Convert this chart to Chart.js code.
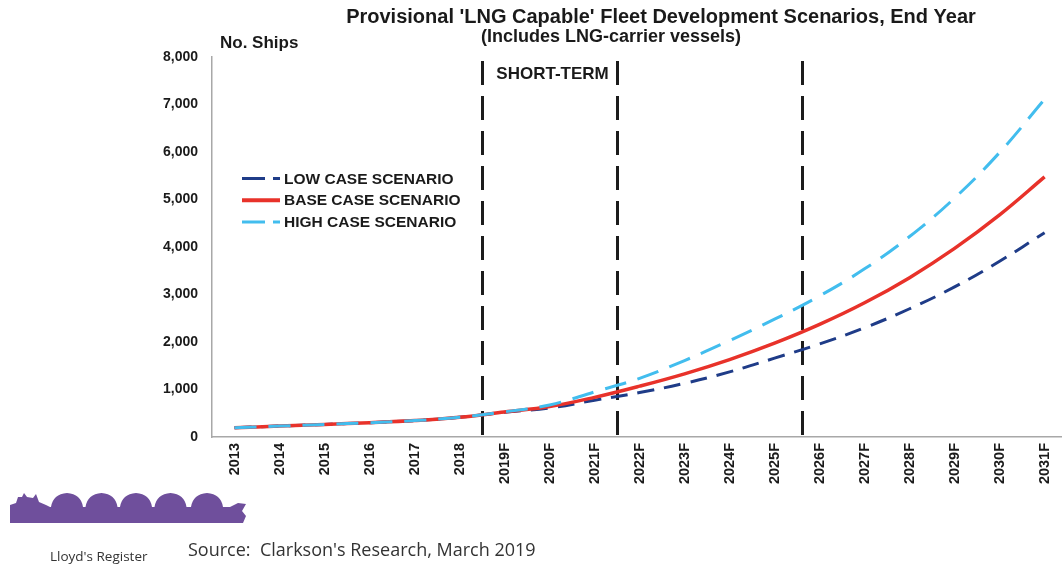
<!DOCTYPE html>
<html>
<head>
<meta charset="utf-8">
<script src="https://cdn.jsdelivr.net/npm/chart.js@4/dist/chart.umd.min.js"></script>
<style>
    html, body { margin: 0; padding: 0; background: #fff; overflow: hidden; }
    #wrap { position: relative; width: 1062px; height: 567px; overflow: hidden; }
</style>
</head>
<body>
<div id="wrap"><canvas id="fleetChart"></canvas></div>
<script>
    // Chart data
    const years = ['2013', '2014', '2015', '2016', '2017', '2018', '2019F', '2020F', '2021F', '2022F',
        '2023F', '2024F', '2025F', '2026F', '2027F', '2028F', '2029F', '2030F', '2031F'];
    const lowCase = [195, 230, 265, 300, 345, 415, 520, 610, 775, 935, 1130, 1370, 1660, 1960, 2300, 2700, 3160, 3700, 4300];
    const baseCase = [195, 230, 265, 300, 345, 415, 525, 640, 835, 1070, 1330, 1630, 1975, 2370, 2825, 3355, 3970, 4675, 5475];
    const highCase = [195, 230, 265, 300, 345, 415, 530, 675, 950, 1235, 1610, 2030, 2480, 2970, 3540, 4220, 5030, 5990, 7110];
    const seriesNames = ['LOW CASE SCENARIO', 'BASE CASE SCENARIO', 'HIGH CASE SCENARIO'];
    // vertical dashed markers, in category units
    const phaseBreaks = [5.5, 8.5, 12.6];
    const phaseLabel = 'SHORT-TERM';
    const yMax = 8000;
    const yStep = 1000;

    const canvas = document.getElementById('fleetChart');
    canvas.width = 1068;
    canvas.height = 567;

    // Draw titles, phase markers, legend, logo and source note
    const decorPlugin = {
        id: 'decor',
        beforeDatasetsDraw(chart) {
            const ctx = chart.ctx;
            const x = chart.scales.x;
            const area = chart.chartArea;
            ctx.save();
            ctx.strokeStyle = '#1c1c1c';
            ctx.lineWidth = 3;
            ctx.setLineDash([24, 11]);
            phaseBreaks.forEach(b => {
                const px = Math.round(x.getPixelForValue(b)) + 0.5;
                ctx.beginPath();
                ctx.moveTo(px, area.top + 4);
                ctx.lineTo(px, area.bottom + 1);
                ctx.stroke();
            });
            ctx.restore();
        },
        afterDraw(chart) {
            const ctx = chart.ctx;
            const x = chart.scales.x;
            ctx.save();
            ctx.fillStyle = '#1a1a1a';
            ctx.textBaseline = 'middle';

            // titles
            ctx.textAlign = 'center';
            ctx.font = 'bold 20px "Liberation Sans", Arial, sans-serif';
            ctx.fillText("Provisional 'LNG Capable' Fleet Development Scenarios, End Year", 661, 17);
            ctx.font = 'bold 18px "Liberation Sans", Arial, sans-serif';
            ctx.fillText('(Includes LNG-carrier vessels)', 611, 37);

            ctx.textAlign = 'left';
            ctx.font = 'bold 17px "Liberation Sans", Arial, sans-serif';
            ctx.fillText('No. Ships', 220, 43);

            // phase label
            ctx.textAlign = 'center';
            ctx.font = 'bold 17px "Liberation Sans", Arial, sans-serif';
            const mid = (x.getPixelForValue(phaseBreaks[0]) + x.getPixelForValue(phaseBreaks[1])) / 2;
            ctx.fillText(phaseLabel, mid + 3, 74);

            // legend
            ctx.textAlign = 'left';
            ctx.font = 'bold 15.5px "Liberation Sans", Arial, sans-serif';
            [0, 1, 2].forEach((di, row) => {
                const ds = chart.data.datasets[di];
                const ly = 178.5 + row * 21.7;
                ctx.save();
                ctx.strokeStyle = ds.borderColor;
                ctx.lineWidth = di === 1 ? 4 : 3;
                ctx.setLineDash(di === 1 ? [] : [23, 8]);
                ctx.beginPath();
                ctx.moveTo(242, ly);
                ctx.lineTo(280, ly);
                ctx.stroke();
                ctx.restore();
                ctx.fillStyle = '#1a1a1a';
                ctx.fillText(seriesNames[di], 284, ly + 1);
            });

            // ship logo
            ctx.fillStyle = '#6f4f9c';
            ctx.beginPath();
            ctx.moveTo(10, 523);
            ctx.lineTo(10, 505);
            ctx.lineTo(16, 503);
            ctx.lineTo(18, 497);
            ctx.lineTo(22, 497);
            ctx.lineTo(24, 493);
            ctx.lineTo(27, 497);
            ctx.lineTo(33, 498);
            ctx.lineTo(36, 494);
            ctx.lineTo(39, 502);
            ctx.lineTo(46, 505);
            ctx.lineTo(50, 507);
            [67, 101.5, 136, 170.5, 207].forEach(cx => {
                ctx.lineTo(cx - 16, 507);
                ctx.quadraticCurveTo(cx - 14, 494, cx, 493);
                ctx.quadraticCurveTo(cx + 14, 494, cx + 16, 507);
            });
            ctx.lineTo(230, 507);
            ctx.lineTo(238, 503);
            ctx.lineTo(246, 504);
            ctx.lineTo(242, 511);
            ctx.lineTo(246, 516);
            ctx.lineTo(243, 523);
            ctx.closePath();
            ctx.fill();

            // footer text
            ctx.fillStyle = '#333';
            ctx.font = '13.5px "Open Sans", sans-serif';
            ctx.fillText("Lloyd's Register", 50, 557);
            ctx.font = '18px "Open Sans", sans-serif';
            ctx.fillText("Source:  Clarkson's Research, March 2019", 188, 551);
            ctx.restore();
        }
    };

    const fleetChart = new Chart(canvas.getContext('2d'), {
        type: 'line',
        data: {
            labels: years,
            datasets: [{
                label: seriesNames[0],
                data: lowCase,
                borderColor: '#1f3c88',
                borderWidth: 3,
                borderDash: [17, 10],
                order: 3
            }, {
                label: seriesNames[1],
                data: baseCase,
                borderColor: '#e8322a',
                borderWidth: 3.5,
                order: 2
            }, {
                label: seriesNames[2],
                data: highCase,
                borderColor: '#42bdee',
                borderWidth: 3,
                borderDash: [22, 12],
                order: 1
            }]
        },
        options: {
            responsive: false,
            animation: false,
            elements: {
                point: { radius: 0 },
                line: { fill: false, tension: 0.4, borderCapStyle: 'butt' }
            },
            layout: {
                padding: { top: 57, right: 0, bottom: 70, left: 0 }
            },
            plugins: {
                legend: { display: false },
                tooltip: { enabled: false },
                title: { display: false }
            },
            scales: {
                x: {
                    type: 'category',
                    offset: true,
                    grid: { display: false, drawTicks: false, offset: true },
                    border: { display: true, color: '#a8a8a8', width: 1.5 },
                    ticks: {
                        autoSkip: false,
                        maxRotation: 90,
                        minRotation: 90,
                        padding: 6,
                        color: '#1a1a1a',
                        font: { family: '"Liberation Sans", Arial, sans-serif', size: 14.5, weight: 'bold' }
                    },
                    afterFit(scale) { scale.height = 60; }
                },
                y: {
                    min: 0,
                    max: yMax,
                    grid: { display: false, drawTicks: false },
                    border: { display: true, color: '#a8a8a8', width: 1.5 },
                    ticks: {
                        stepSize: yStep,
                        padding: 14,
                        color: '#1a1a1a',
                        font: { family: '"Liberation Sans", Arial, sans-serif', size: 14, weight: 'bold' },
                        callback: v => v.toLocaleString('en-US')
                    },
                    afterFit(scale) { scale.width = 212; }
                }
            }
        },
        plugins: [decorPlugin]
    });
</script>
</body>
</html>
